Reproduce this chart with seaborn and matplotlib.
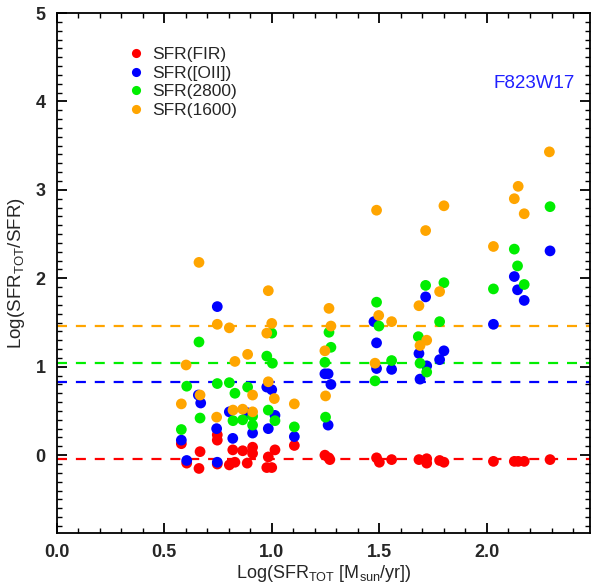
import numpy as np
import pandas as pd
import matplotlib
matplotlib.use("Agg")
import matplotlib.pyplot as plt
import seaborn as sns
from matplotlib.ticker import MultipleLocator

# ---------------- data ----------------
fir_x = [0.58, 0.605, 0.667, 0.662, 0.747, 0.747, 0.747, 0.819, 0.865, 0.911, 0.911,
         0.803, 0.829, 0.886, 1.015, 0.984, 0.977, 1.0, 1.105,
         1.247, 1.265, 1.27, 1.487, 1.50, 1.557, 1.684, 1.72, 1.72, 1.78, 1.80,
         2.03, 2.127, 2.145, 2.173, 2.293]
fir_y = [0.13, -0.09, 0.04, -0.15, 0.23, 0.17, -0.10, 0.06, 0.05, 0.09, 0.02,
         -0.11, -0.08, -0.09, 0.06, -0.02, -0.14, -0.14, 0.11,
         0.0, -0.03, -0.05, -0.03, -0.08, -0.05, -0.05, -0.04, -0.09, -0.06, -0.08,
         -0.07, -0.07, -0.07, -0.07, -0.05]

oii_x = [0.58, 0.605, 0.67, 0.659, 0.744, 0.747, 0.819, 0.803, 0.886, 0.911, 0.984,
         1.015, 0.977, 1.0, 1.105, 0.747,
         1.247, 1.262, 1.275, 1.262, 1.475, 1.487, 1.487, 1.557, 1.715, 1.684, 1.80,
         1.78, 1.72, 1.689, 2.03, 2.127, 2.142, 2.173, 2.293]
oii_y = [0.17, -0.06, 0.59, 0.68, 0.30, -0.08, 0.19, 0.49, 0.48, 0.25, 0.30,
         0.45, 0.77, 0.74, 0.21, 1.68,
         0.92, 0.92, 0.80, 0.34, 1.51, 1.27, 0.98, 0.97, 1.79, 1.15, 1.18,
         1.08, 1.01, 0.86, 1.48, 2.02, 1.87, 1.75, 2.31]

c2800_x = [0.58, 0.605, 0.667, 0.662, 0.747, 0.803, 0.829, 0.888, 0.82, 0.865, 0.911,
           0.911, 0.984, 1.015, 1.105, 0.977, 1.003, 1.0,
           1.266, 1.275, 1.247, 1.25, 1.487, 1.498, 1.557, 1.48, 1.715, 1.80, 1.78,
           1.681, 1.689, 1.72, 2.03, 2.127, 2.142, 2.173, 2.293]
c2800_y = [0.29, 0.78, 0.42, 1.28, 0.81, 0.82, 0.70, 0.77, 0.39, 0.40, 0.44,
           0.34, 0.51, 0.39, 0.32, 1.12, 1.04, 1.38,
           1.39, 1.22, 1.05, 0.43, 1.73, 1.46, 1.07, 0.84, 1.92, 1.95, 1.51,
           1.34, 1.04, 0.94, 1.88, 2.33, 2.14, 1.93, 2.81]

c1600_x = [0.662, 0.984, 0.747, 0.803, 1.0, 0.977, 0.888, 0.829, 0.602, 0.984, 0.911,
           0.667, 1.012, 0.58, 1.105, 0.744, 0.82, 0.865, 0.911,
           1.266, 1.275, 1.247, 1.25, 1.487, 1.497, 1.557, 1.48, 1.715, 1.80, 1.78,
           1.684, 1.72, 1.689, 2.03, 2.145, 2.127, 2.173, 2.29]
c1600_y = [2.18, 1.86, 1.48, 1.44, 1.49, 1.38, 1.14, 1.06, 1.02, 0.83, 0.68,
           0.68, 0.64, 0.58, 0.58, 0.43, 0.51, 0.52, 0.49,
           1.66, 1.46, 1.18, 0.67, 2.77, 1.58, 1.51, 1.04, 2.54, 2.82, 1.85,
           1.69, 1.30, 1.24, 2.36, 3.04, 2.90, 2.73, 3.43]

series_names = ["SFR(FIR)", "SFR([OII])", "SFR(2800)", "SFR(1600)"]
series_colors = ["#ff0000", "#0000ff", "#00ee00", "#ffa500"]
median_levels = [-0.04, 0.83, 1.04, 1.46]
field_name = "F823W17"

# ---------------- build long-form table ----------------
frames = []
for name, xs, ys in zip(series_names,
                        [fir_x, oii_x, c2800_x, c1600_x],
                        [fir_y, oii_y, c2800_y, c1600_y]):
    frames.append(pd.DataFrame({"x": xs, "y": ys, "series": name}))
df = pd.concat(frames, ignore_index=True)

# ---------------- style ----------------
sns.set_theme(style="white")
plt.rcParams["font.family"] = ["Liberation Sans", "DejaVu Sans"]
plt.rcParams["mathtext.fontset"] = "custom"
plt.rcParams["mathtext.rm"] = "Liberation Sans"
plt.rcParams["mathtext.it"] = "Liberation Sans:italic"
plt.rcParams["mathtext.bf"] = "Liberation Sans:bold"

fig = plt.figure(figsize=(5.92, 5.86), dpi=100)
ax = fig.add_axes([56.5 / 592, 53 / 586, 534 / 592, 520 / 586])

sns.scatterplot(data=df, x="x", y="y", hue="series", hue_order=series_names,
                palette=series_colors, s=60, edgecolor="none", linewidth=0,
                ax=ax, legend=True, zorder=3)

for lvl, col in zip(median_levels, series_colors):
    ax.axhline(lvl, color=col, lw=1.6, ls=(0, (4.5, 4)), zorder=2)

ax.set_xlim(0, 2.481)
ax.set_ylim(-0.88, 5.0)

ax.xaxis.set_major_locator(MultipleLocator(0.5))
ax.xaxis.set_minor_locator(MultipleLocator(0.1))
ax.yaxis.set_major_locator(MultipleLocator(1))
ax.yaxis.set_minor_locator(MultipleLocator(0.1))
ax.tick_params(which="both", direction="in", top=True, right=True,
               bottom=True, left=True, color="black")
ax.tick_params(which="major", length=7, width=1.3, labelsize=13, pad=8)
ax.tick_params(which="minor", length=3.5, width=1.0)
ax.set_xticks([0.0, 0.5, 1.0, 1.5, 2.0])
ax.set_xticklabels(["0.0", "0.5", "1.0", "1.5", "2.0"], fontweight="bold")
ax.set_yticks([0, 1, 2, 3, 4, 5])
ax.set_yticklabels(["0", "1", "2", "3", "4", "5"], fontweight="bold")

for sp in ax.spines.values():
    sp.set_color("black")
    sp.set_linewidth(1.3)

ax.set_xlabel(r"Log(SFR$_{\rm TOT}$ [M$_{\rm sun}$/yr])", fontsize=13, labelpad=1)
ax.set_ylabel(r"Log(SFR$_{\rm TOT}$/SFR)", fontsize=13.5, labelpad=6)

leg = ax.legend(loc="upper left", bbox_to_anchor=(0.117, 0.948), frameon=False,
                fontsize=12.5, handletextpad=0.3, labelspacing=0.2,
                markerscale=0.85, handlelength=1.2, borderaxespad=0)

ax.text(0.971, 0.865, field_name, transform=ax.transAxes, ha="right", va="center",
        color="#2020ff", fontsize=13.5)

fig.savefig("out.png", dpi=100)
